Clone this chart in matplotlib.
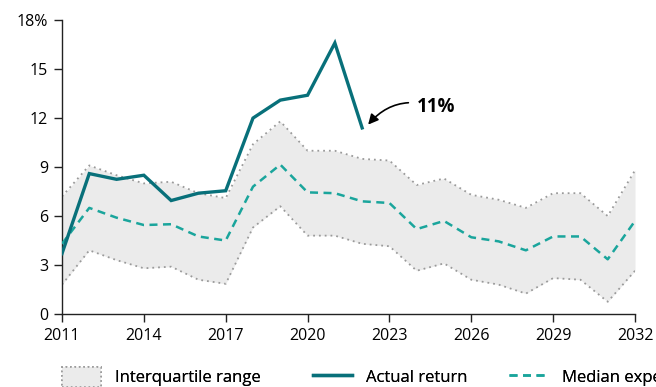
import matplotlib.pyplot as plt
from matplotlib.patches import Patch
from matplotlib.lines import Line2D

plt.rcParams['font.family'] = ['Open Sans', 'DejaVu Sans']

# Yearly series, in percent
years = list(range(2011, 2033))
actual_years = list(range(2011, 2023))
actual = [3.7, 8.6, 8.25, 8.5, 6.95, 7.4, 7.55, 12.0, 13.1, 13.4, 16.6, 11.4]
upper_q = [7.2, 9.1, 8.5, 8.0, 8.1, 7.4, 7.1, 10.4, 11.8, 10.0, 10.0, 9.5,
           9.4, 7.9, 8.3, 7.3, 7.0, 6.5, 7.4, 7.4, 6.0, 8.8]
median = [4.3, 6.5, 5.9, 5.45, 5.5, 4.75, 4.5, 7.8, 9.15, 7.45, 7.4, 6.9,
          6.8, 5.2, 5.7, 4.7, 4.45, 3.9, 4.75, 4.75, 3.35, 5.7]
lower_q = [1.8, 3.9, 3.3, 2.8, 2.9, 2.1, 1.85, 5.3, 6.6, 4.8, 4.8, 4.3,
           4.15, 2.65, 3.1, 2.1, 1.8, 1.25, 2.2, 2.1, 0.75, 2.65]
xticks = list(range(2011, 2033, 3))
yticks = [0, 3, 6, 9, 12, 15, 18]
ylabels = ['0', '3', '6', '9', '12', '15', '18%']

c_fill = '#ebebeb'
c_dot = '#9a9a9a'
c_actual = '#08707a'
c_median = '#1aa59c'

fig = plt.figure(figsize=(6.56, 3.87), dpi=100)
ax = fig.add_axes([0.0945, 0.1886, 0.8735, 0.7594])

ax.fill_between(years, lower_q, upper_q, color=c_fill, lw=0, zorder=1)
ax.plot(years, upper_q, color=c_dot, lw=1.3, ls=(0, (1, 2.2)), zorder=2)
ax.plot(years, lower_q, color=c_dot, lw=1.3, ls=(0, (1, 2.2)), zorder=2)
ax.plot(years, median, color=c_median, lw=1.8, ls=(0, (3.2, 2.2)), zorder=3)
ax.plot(actual_years, actual, color=c_actual, lw=2.4, zorder=4,
        solid_joinstyle='miter')

# label for the last actual value
ax.annotate(f'{actual[-1]:.0f}%', xy=(actual_years[-1] + 0.22, actual[-1] + 0.2),
            xytext=(actual_years[-1] + 2.0, actual[-1] + 1.25),
            fontsize=13.5, fontweight='bold', va='center', ha='left',
            arrowprops=dict(arrowstyle='-|>', color='black', lw=1.2,
                            mutation_scale=15, shrinkA=4, shrinkB=0,
                            connectionstyle='arc3,rad=0.35'))

ax.set_xlim(2011, 2032)
ax.set_ylim(0, 18)
ax.set_xticks(xticks)
ax.set_yticks(yticks)
ax.set_yticklabels(ylabels)
ax.tick_params(labelsize=11.5, length=6, width=1, color='#222222', pad=4)
for s in ['top', 'right']:
    ax.spines[s].set_visible(False)
for s in ['left', 'bottom']:
    ax.spines[s].set_color('#222222')
    ax.spines[s].set_linewidth(1)

# legend entries placed one by one along the bottom
handles = [
    Patch(facecolor=c_fill, edgecolor=c_dot, linestyle=':', linewidth=1.2),
    Line2D([], [], color=c_actual, lw=2.4),
    Line2D([], [], color=c_median, lw=1.8, ls=(0, (3.2, 2.2))),
]
labels = ['Interquartile range', 'Actual return', 'Median expected return']
lx = [62 / 656, 313 / 656, 509 / 656]
for h, lab, x in zip(handles, labels, lx):
    leg = fig.legend([h], [lab], loc='center left', bbox_to_anchor=(x, 0.026),
                     frameon=False, fontsize=12, handlelength=2.35,
                     handleheight=1.4, handletextpad=0.85,
                     borderpad=0, borderaxespad=0)
    fig.add_artist(leg)

fig.savefig('out.png', dpi=100)
